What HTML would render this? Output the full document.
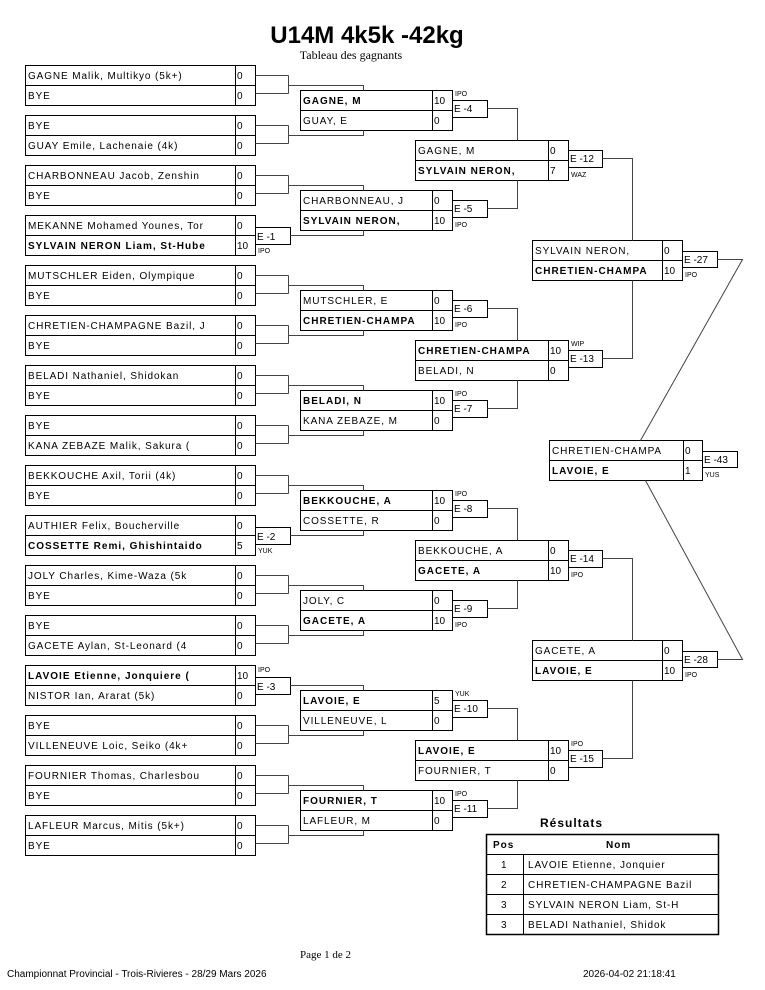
<!DOCTYPE html>
<html><head><meta charset="utf-8"><style>
html,body{margin:0;padding:0;background:#fff;}
svg{display:block;}
text{font-family:"Liberation Sans",sans-serif;font-size:10px;letter-spacing:0.9px;fill:#000;}
.b{font-weight:bold;letter-spacing:1px;}
.c{font-size:7px;letter-spacing:0;}
.s{letter-spacing:0;}
</style></head><body>
<svg width="765" height="990" viewBox="0 0 765 990" xmlns="http://www.w3.org/2000/svg">
<text x="367" y="43" text-anchor="middle" style="font-size:24px;font-weight:bold;letter-spacing:0">U14M 4k5k -42kg</text>
<text x="351" y="59" text-anchor="middle" style="font-family:'Liberation Serif',serif;font-size:12px;letter-spacing:0">Tableau des gagnants</text>
<g transform="translate(0.5,0.5)" fill="none" stroke="#000" stroke-width="1">
<rect x="25" y="65" width="230" height="40"/><line x1="25" y1="85" x2="255" y2="85"/><line x1="235" y1="65" x2="235" y2="105"/>
<rect x="25" y="115" width="230" height="40"/><line x1="25" y1="135" x2="255" y2="135"/><line x1="235" y1="115" x2="235" y2="155"/>
<rect x="25" y="165" width="230" height="40"/><line x1="25" y1="185" x2="255" y2="185"/><line x1="235" y1="165" x2="235" y2="205"/>
<rect x="25" y="215" width="230" height="40"/><line x1="25" y1="235" x2="255" y2="235"/><line x1="235" y1="215" x2="235" y2="255"/>
<rect x="25" y="265" width="230" height="40"/><line x1="25" y1="285" x2="255" y2="285"/><line x1="235" y1="265" x2="235" y2="305"/>
<rect x="25" y="315" width="230" height="40"/><line x1="25" y1="335" x2="255" y2="335"/><line x1="235" y1="315" x2="235" y2="355"/>
<rect x="25" y="365" width="230" height="40"/><line x1="25" y1="385" x2="255" y2="385"/><line x1="235" y1="365" x2="235" y2="405"/>
<rect x="25" y="415" width="230" height="40"/><line x1="25" y1="435" x2="255" y2="435"/><line x1="235" y1="415" x2="235" y2="455"/>
<rect x="25" y="465" width="230" height="40"/><line x1="25" y1="485" x2="255" y2="485"/><line x1="235" y1="465" x2="235" y2="505"/>
<rect x="25" y="515" width="230" height="40"/><line x1="25" y1="535" x2="255" y2="535"/><line x1="235" y1="515" x2="235" y2="555"/>
<rect x="25" y="565" width="230" height="40"/><line x1="25" y1="585" x2="255" y2="585"/><line x1="235" y1="565" x2="235" y2="605"/>
<rect x="25" y="615" width="230" height="40"/><line x1="25" y1="635" x2="255" y2="635"/><line x1="235" y1="615" x2="235" y2="655"/>
<rect x="25" y="665" width="230" height="40"/><line x1="25" y1="685" x2="255" y2="685"/><line x1="235" y1="665" x2="235" y2="705"/>
<rect x="25" y="715" width="230" height="40"/><line x1="25" y1="735" x2="255" y2="735"/><line x1="235" y1="715" x2="235" y2="755"/>
<rect x="25" y="765" width="230" height="40"/><line x1="25" y1="785" x2="255" y2="785"/><line x1="235" y1="765" x2="235" y2="805"/>
<rect x="25" y="815" width="230" height="40"/><line x1="25" y1="835" x2="255" y2="835"/><line x1="235" y1="815" x2="235" y2="855"/>
<rect x="300" y="90" width="152" height="40"/><line x1="300" y1="110" x2="452" y2="110"/><line x1="432" y1="90" x2="432" y2="130"/>
<rect x="300" y="190" width="152" height="40"/><line x1="300" y1="210" x2="452" y2="210"/><line x1="432" y1="190" x2="432" y2="230"/>
<rect x="300" y="290" width="152" height="40"/><line x1="300" y1="310" x2="452" y2="310"/><line x1="432" y1="290" x2="432" y2="330"/>
<rect x="300" y="390" width="152" height="40"/><line x1="300" y1="410" x2="452" y2="410"/><line x1="432" y1="390" x2="432" y2="430"/>
<rect x="300" y="490" width="152" height="40"/><line x1="300" y1="510" x2="452" y2="510"/><line x1="432" y1="490" x2="432" y2="530"/>
<rect x="300" y="590" width="152" height="40"/><line x1="300" y1="610" x2="452" y2="610"/><line x1="432" y1="590" x2="432" y2="630"/>
<rect x="300" y="690" width="152" height="40"/><line x1="300" y1="710" x2="452" y2="710"/><line x1="432" y1="690" x2="432" y2="730"/>
<rect x="300" y="790" width="152" height="40"/><line x1="300" y1="810" x2="452" y2="810"/><line x1="432" y1="790" x2="432" y2="830"/>
<rect x="452" y="100" width="35" height="17"/><rect x="452" y="200" width="35" height="17"/><rect x="452" y="300" width="35" height="17"/><rect x="452" y="400" width="35" height="17"/>
<rect x="452" y="500" width="35" height="17"/><rect x="452" y="600" width="35" height="17"/><rect x="452" y="700" width="35" height="17"/><rect x="452" y="800" width="35" height="17"/>
<rect x="415" y="140" width="153" height="40"/><line x1="415" y1="160" x2="568" y2="160"/><line x1="548" y1="140" x2="548" y2="180"/>
<rect x="415" y="340" width="153" height="40"/><line x1="415" y1="360" x2="568" y2="360"/><line x1="548" y1="340" x2="548" y2="380"/>
<rect x="415" y="540" width="153" height="40"/><line x1="415" y1="560" x2="568" y2="560"/><line x1="548" y1="540" x2="548" y2="580"/>
<rect x="415" y="740" width="153" height="40"/><line x1="415" y1="760" x2="568" y2="760"/><line x1="548" y1="740" x2="548" y2="780"/>
<rect x="568" y="150" width="34" height="17"/><rect x="568" y="350" width="34" height="17"/><rect x="568" y="550" width="34" height="17"/><rect x="568" y="750" width="34" height="17"/>
<rect x="532" y="240" width="150" height="40"/><line x1="532" y1="260" x2="682" y2="260"/><line x1="662" y1="240" x2="662" y2="280"/>
<rect x="532" y="640" width="150" height="40"/><line x1="532" y1="660" x2="682" y2="660"/><line x1="662" y1="640" x2="662" y2="680"/>
<rect x="682" y="251" width="35" height="16"/><rect x="682" y="651" width="35" height="16"/>
<rect x="549" y="440" width="153" height="40"/><line x1="549" y1="460" x2="702" y2="460"/><line x1="683" y1="440" x2="683" y2="480"/>
<rect x="702" y="451" width="35" height="16"/>
<rect x="255" y="227" width="35" height="17"/><rect x="255" y="527" width="35" height="17"/><rect x="255" y="677" width="35" height="17"/>
</g>
<g transform="translate(0.5,0.5)" fill="none" stroke="#444" stroke-width="1">
<path d="M255 75H288M255 93H288M288 75V93M288 85H363V90"/>
<path d="M255 125H288M255 143H288M288 125V143M288 135H363V130"/>
<path d="M255 175H288M255 193H288M288 175V193M288 185H363V190"/>
<path d="M290 235H363V230"/>
<path d="M255 275H288M255 293H288M288 275V293M288 285H363V290"/>
<path d="M255 325H288M255 343H288M288 325V343M288 335H363V330"/>
<path d="M255 375H288M255 393H288M288 375V393M288 385H363V390"/>
<path d="M255 425H288M255 443H288M288 425V443M288 435H363V430"/>
<path d="M255 475H288M255 493H288M288 475V493M288 485H363V490"/>
<path d="M290 535H363V530"/>
<path d="M255 575H288M255 593H288M288 575V593M288 585H363V590"/>
<path d="M255 625H288M255 643H288M288 625V643M288 635H363V630"/>
<path d="M290 685H363V690"/>
<path d="M255 725H288M255 743H288M288 725V743M288 735H363V730"/>
<path d="M255 775H288M255 793H288M288 775V793M288 785H363V790"/>
<path d="M255 825H288M255 843H288M288 825V843M288 835H363V830"/>
<path d="M487 108H517V140M487 208H517V180"/>
<path d="M487 308H517V340M487 408H517V380"/>
<path d="M487 508H517V540M487 608H517V580"/>
<path d="M487 708H517V740M487 808H517V780"/>
<path d="M602 158H632V240M602 358H632V280"/>
<path d="M602 558H632V640M602 758H632V680"/>
<path d="M717 259H742L640 440M717 659H742L645 480"/>
</g>
<text x="28" y="79">GAGNE Malik, Multikyo (5k+)</text><text x="237" y="79" class="s">0</text>
<text x="28" y="99">BYE</text><text x="237" y="99" class="s">0</text>
<text x="28" y="129">BYE</text><text x="237" y="129" class="s">0</text>
<text x="28" y="149">GUAY Emile, Lachenaie (4k)</text><text x="237" y="149" class="s">0</text>
<text x="28" y="179">CHARBONNEAU Jacob, Zenshin</text><text x="237" y="179" class="s">0</text>
<text x="28" y="199">BYE</text><text x="237" y="199" class="s">0</text>
<text x="28" y="229">MEKANNE Mohamed Younes, Tor</text><text x="237" y="229" class="s">0</text>
<text x="28" y="249" class="b">SYLVAIN NERON Liam, St-Hube</text><text x="237" y="249" class="s">10</text>
<text x="28" y="279">MUTSCHLER Eiden, Olympique</text><text x="237" y="279" class="s">0</text>
<text x="28" y="299">BYE</text><text x="237" y="299" class="s">0</text>
<text x="28" y="329">CHRETIEN-CHAMPAGNE Bazil, J</text><text x="237" y="329" class="s">0</text>
<text x="28" y="349">BYE</text><text x="237" y="349" class="s">0</text>
<text x="28" y="379">BELADI Nathaniel, Shidokan</text><text x="237" y="379" class="s">0</text>
<text x="28" y="399">BYE</text><text x="237" y="399" class="s">0</text>
<text x="28" y="429">BYE</text><text x="237" y="429" class="s">0</text>
<text x="28" y="449">KANA ZEBAZE Malik, Sakura (</text><text x="237" y="449" class="s">0</text>
<text x="28" y="479">BEKKOUCHE Axil, Torii (4k)</text><text x="237" y="479" class="s">0</text>
<text x="28" y="499">BYE</text><text x="237" y="499" class="s">0</text>
<text x="28" y="529">AUTHIER Felix, Boucherville</text><text x="237" y="529" class="s">0</text>
<text x="28" y="549" class="b">COSSETTE Remi, Ghishintaido</text><text x="237" y="549" class="s">5</text>
<text x="28" y="579">JOLY Charles, Kime-Waza (5k</text><text x="237" y="579" class="s">0</text>
<text x="28" y="599">BYE</text><text x="237" y="599" class="s">0</text>
<text x="28" y="629">BYE</text><text x="237" y="629" class="s">0</text>
<text x="28" y="649">GACETE Aylan, St-Leonard (4</text><text x="237" y="649" class="s">0</text>
<text x="28" y="679" class="b">LAVOIE Etienne, Jonquiere (</text><text x="237" y="679" class="s">10</text>
<text x="28" y="699">NISTOR Ian, Ararat (5k)</text><text x="237" y="699" class="s">0</text>
<text x="28" y="729">BYE</text><text x="237" y="729" class="s">0</text>
<text x="28" y="749">VILLENEUVE Loic, Seiko (4k+</text><text x="237" y="749" class="s">0</text>
<text x="28" y="779">FOURNIER Thomas, Charlesbou</text><text x="237" y="779" class="s">0</text>
<text x="28" y="799">BYE</text><text x="237" y="799" class="s">0</text>
<text x="28" y="829">LAFLEUR Marcus, Mitis (5k+)</text><text x="237" y="829" class="s">0</text>
<text x="28" y="849">BYE</text><text x="237" y="849" class="s">0</text>
<text x="257" y="240" class="s">E -1</text><text x="258" y="253" class="c">IPO</text>
<text x="257" y="540" class="s">E -2</text><text x="258" y="553" class="c">YUK</text>
<text x="257" y="690" class="s">E -3</text><text x="258" y="672" class="c">IPO</text>
<text x="303" y="104" class="b">GAGNE, M</text><text x="434" y="104" class="s">10</text><text x="303" y="124">GUAY, E</text><text x="434" y="124" class="s">0</text>
<text x="454" y="112" class="s">E -4</text><text x="455" y="96" class="c">IPO</text>
<text x="303" y="204">CHARBONNEAU, J</text><text x="434" y="204" class="s">0</text><text x="303" y="224" class="b">SYLVAIN NERON,</text><text x="434" y="224" class="s">10</text>
<text x="454" y="212" class="s">E -5</text><text x="455" y="227" class="c">IPO</text>
<text x="303" y="304">MUTSCHLER, E</text><text x="434" y="304" class="s">0</text><text x="303" y="324" class="b">CHRETIEN-CHAMPA</text><text x="434" y="324" class="s">10</text>
<text x="454" y="312" class="s">E -6</text><text x="455" y="327" class="c">IPO</text>
<text x="303" y="404" class="b">BELADI, N</text><text x="434" y="404" class="s">10</text><text x="303" y="424">KANA ZEBAZE, M</text><text x="434" y="424" class="s">0</text>
<text x="454" y="412" class="s">E -7</text><text x="455" y="396" class="c">IPO</text>
<text x="303" y="504" class="b">BEKKOUCHE, A</text><text x="434" y="504" class="s">10</text><text x="303" y="524">COSSETTE, R</text><text x="434" y="524" class="s">0</text>
<text x="454" y="512" class="s">E -8</text><text x="455" y="496" class="c">IPO</text>
<text x="303" y="604">JOLY, C</text><text x="434" y="604" class="s">0</text><text x="303" y="624" class="b">GACETE, A</text><text x="434" y="624" class="s">10</text>
<text x="454" y="612" class="s">E -9</text><text x="455" y="627" class="c">IPO</text>
<text x="303" y="704" class="b">LAVOIE, E</text><text x="434" y="704" class="s">5</text><text x="303" y="724">VILLENEUVE, L</text><text x="434" y="724" class="s">0</text>
<text x="454" y="712" class="s">E -10</text><text x="455" y="696" class="c">YUK</text>
<text x="303" y="804" class="b">FOURNIER, T</text><text x="434" y="804" class="s">10</text><text x="303" y="824">LAFLEUR, M</text><text x="434" y="824" class="s">0</text>
<text x="454" y="812" class="s">E -11</text><text x="455" y="796" class="c">IPO</text>
<text x="418" y="154">GAGNE, M</text><text x="550" y="154" class="s">0</text><text x="418" y="174" class="b">SYLVAIN NERON,</text><text x="550" y="174" class="s">7</text>
<text x="570" y="162" class="s">E -12</text><text x="571" y="177" class="c">WAZ</text>
<text x="418" y="354" class="b">CHRETIEN-CHAMPA</text><text x="550" y="354" class="s">10</text><text x="418" y="374">BELADI, N</text><text x="550" y="374" class="s">0</text>
<text x="570" y="362" class="s">E -13</text><text x="571" y="346" class="c">WIP</text>
<text x="418" y="554">BEKKOUCHE, A</text><text x="550" y="554" class="s">0</text><text x="418" y="574" class="b">GACETE, A</text><text x="550" y="574" class="s">10</text>
<text x="570" y="562" class="s">E -14</text><text x="571" y="577" class="c">IPO</text>
<text x="418" y="754" class="b">LAVOIE, E</text><text x="550" y="754" class="s">10</text><text x="418" y="774">FOURNIER, T</text><text x="550" y="774" class="s">0</text>
<text x="570" y="762" class="s">E -15</text><text x="571" y="746" class="c">IPO</text>
<text x="535" y="254">SYLVAIN NERON,</text><text x="664" y="254" class="s">0</text><text x="535" y="274" class="b">CHRETIEN-CHAMPA</text><text x="664" y="274" class="s">10</text>
<text x="684" y="263" class="s">E -27</text><text x="685" y="277" class="c">IPO</text>
<text x="535" y="654">GACETE, A</text><text x="664" y="654" class="s">0</text><text x="535" y="674" class="b">LAVOIE, E</text><text x="664" y="674" class="s">10</text>
<text x="684" y="663" class="s">E -28</text><text x="685" y="677" class="c">IPO</text>
<text x="552" y="454">CHRETIEN-CHAMPA</text><text x="685" y="454" class="s">0</text><text x="552" y="474" class="b">LAVOIE, E</text><text x="685" y="474" class="s">1</text>
<text x="704" y="463" class="s">E -43</text><text x="705" y="477" class="c">YUS</text>
<text x="540" y="827" class="b" style="font-size:12px">Résultats</text>
<g transform="translate(0.5,0.5)" fill="none" stroke="#000">
<rect x="486" y="834" width="232" height="100" stroke-width="1.5"/>
<line x1="486" y1="854" x2="718" y2="854"/><line x1="486" y1="874" x2="718" y2="874"/><line x1="486" y1="894" x2="718" y2="894"/><line x1="486" y1="914" x2="718" y2="914"/>
<line x1="523" y1="854" x2="523" y2="934"/>
</g>
<text x="493" y="848" class="b">Pos</text><text x="606" y="848" class="b">Nom</text>
<text x="501" y="868" class="s">1</text><text x="528" y="868">LAVOIE Etienne, Jonquier</text>
<text x="501" y="888" class="s">2</text><text x="528" y="888">CHRETIEN-CHAMPAGNE Bazil</text>
<text x="501" y="908" class="s">3</text><text x="528" y="908">SYLVAIN NERON Liam, St-H</text>
<text x="501" y="928" class="s">3</text><text x="528" y="928">BELADI Nathaniel, Shidok</text>
<text x="300" y="958" style="font-family:'Liberation Serif',serif;font-size:11px;letter-spacing:0">Page 1 de 2</text>
<text x="7" y="977" style="font-size:10px;letter-spacing:0">Championnat Provincial - Trois-Rivieres - 28/29 Mars 2026</text>
<text x="583" y="977" style="font-size:10px;letter-spacing:0">2026-04-02 21:18:41</text>
</svg>
</body></html>
